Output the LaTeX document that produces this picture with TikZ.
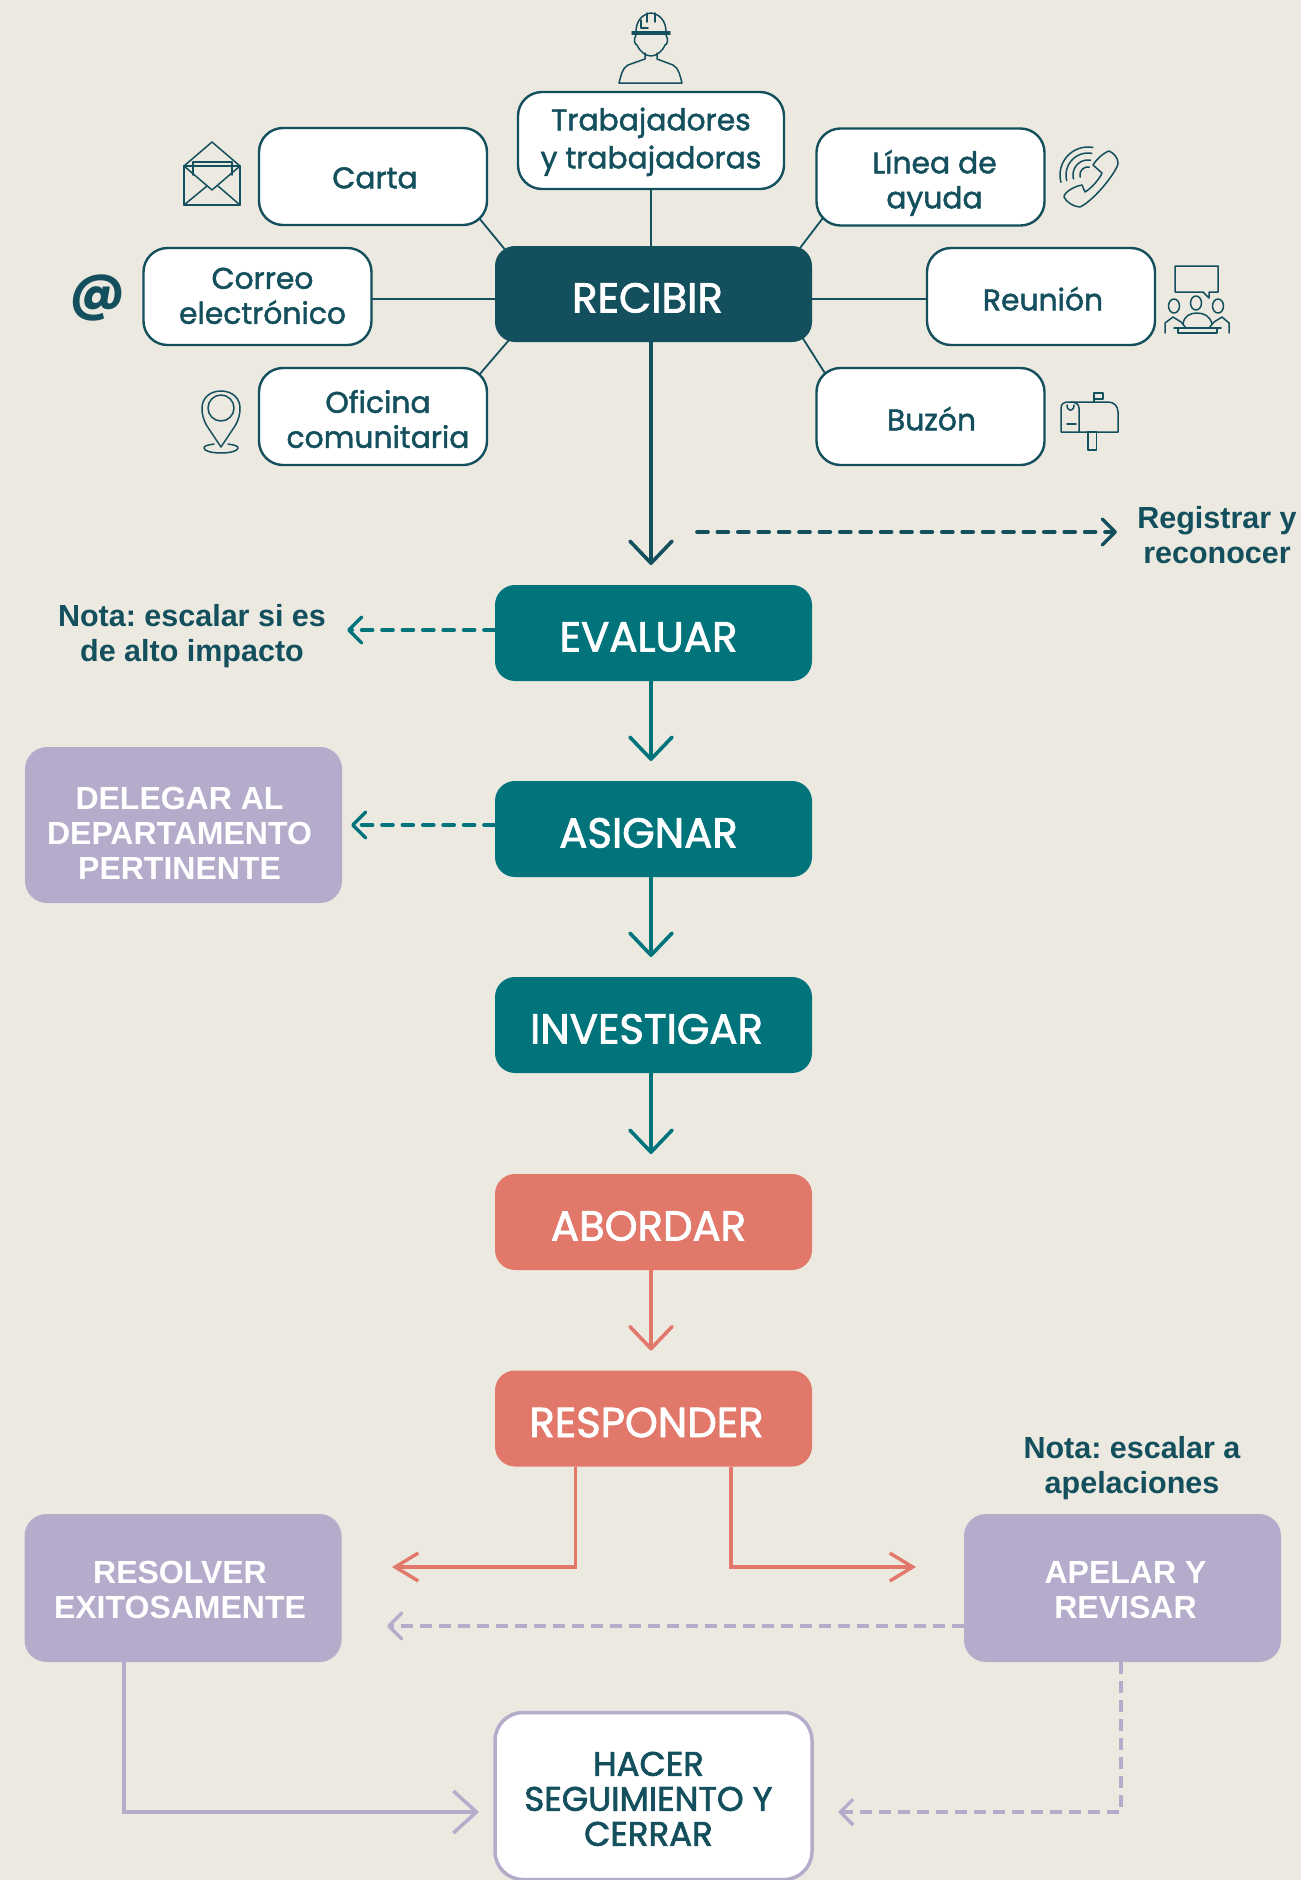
\documentclass[tikz,border=0pt]{standalone}
\usepackage{fontspec}
\usetikzlibrary{arrows.meta,backgrounds}
\newfontfamily\lblfont[FakeBold=1.6]{Poppins}
\newfontfamily\capfont[FakeBold=2]{Poppins}
\newfontfamily\atfont{Poppins}
\newfontfamily\notefont[Ligatures=TeX]{Liberation Sans}
\definecolor{bgc}{HTML}{ECE9E1}
\definecolor{dark}{HTML}{134F5C}
\definecolor{teal2}{HTML}{00747A}
\definecolor{coral}{HTML}{E2786A}
\definecolor{lilac}{HTML}{B5ABCB}
\frenchspacing
\newcommand\tsh[3]{\kern#1pt\raisebox{#2pt}[0pt][0pt]{\begin{tabular}{@{}c@{}}#3\end{tabular}}\kern-#1pt}
\tikzset{
  boxbase/.style={rectangle,outer sep=0pt,inner sep=0pt,align=center},
  chan/.style={boxbase,draw=dark,line width=2.4pt,fill=white,rounded corners=24pt,minimum width=228pt,minimum height=97pt,text=dark,font=\lblfont\frenchspacing\fontsize{29.8}{35}\selectfont},
  stage/.style={boxbase,rounded corners=20pt,minimum width=317pt,minimum height=96pt,text=white,font=\capfont\fontsize{41.8}{40}\selectfont},
  side/.style={boxbase,fill=lilac,rounded corners=22pt,minimum width=317pt,text=white,font=\notefont\bfseries\fontsize{32}{35}\selectfont},
  closebox/.style={boxbase,draw=lilac,line width=3.5pt,fill=white,rounded corners=28pt,minimum width=317pt,minimum height=167pt,text=dark,font=\capfont\fontsize{34}{35}\selectfont},
  note/.style={boxbase,text=dark,font=\notefont\bfseries\frenchspacing\fontsize{30.5}{35}\selectfont},
  spoke/.style={draw=dark,line width=1.8pt},
  bigtip/.style={-{Straight Barb[round,length=22pt,width=42pt,line width=3.6pt]},line width=3.6pt,shorten >=20pt},
  dashtip/.style={-{Straight Barb[round,length=13pt,width=26pt,line width=3.4pt]},line width=3.6pt,line cap=round,dash pattern=on 11pt off 9.4pt},
  icon/.style={draw=dark,line width=1.5pt,line join=round,line cap=round,fill=none},
}
\begin{document}
\begin{tikzpicture}[x=1pt,y=-1pt]
\useasboundingbox (0,0) rectangle (1301,1880);
% stages
\node[stage,fill=dark] (recibir) at (653.5,294) {\tsh{-6}{-16}{RECIBIR}};
\node[stage,fill=teal2] (evaluar) at (653.5,633) {\tsh{-5}{-16}{EVALUAR}};
\node[stage,fill=teal2] (asignar) at (653.5,829) {\tsh{-5}{-16}{ASIGNAR}};
\node[stage,fill=teal2] (investigar) at (653.5,1025) {\tsh{-7}{-16}{INVESTIGAR}};
\node[stage,fill=coral] (abordar) at (653.5,1222) {\tsh{-5}{-16}{ABORDAR}};
\node[stage,fill=coral] (responder) at (653.5,1418.5) {\tsh{-7}{-16}{RESPONDER}};
% channels
\node[chan,minimum width=266pt] (trab) at (651,140.5) {\tsh{0}{-8}{Trabajadores\\[3pt]y trabajadoras}};
\node[chan] (carta) at (373,176.5) {\tsh{2}{-11}{Carta}};
\node[chan] (correo) at (257.5,296.5) {\tsh{5}{-9}{Correo\\electrónico}};
\node[chan] (oficina) at (373,416.5) {\tsh{5}{-13}{Oficina\\comunitaria}};
\node[chan] (linea) at (930.5,177) {\tsh{4}{-13}{Línea de\\ayuda}};
\node[chan] (reunion) at (1041,296.5) {\tsh{2}{-13}{Reunión}};
\node[chan] (buzon) at (930.5,416.5) {\tsh{1}{-13}{Buzón}};
\node[boxbase,text=dark,font=\atfont\bfseries\fontsize{52}{52}\selectfont] (arroba) at (98,298) {@};
% side boxes
\node[side,minimum height=156pt] (delegar) at (183.5,825) {\tsh{-4}{-19}{DELEGAR AL\\DEPARTAMENTO\\PERTINENTE}};
\node[side,minimum height=148pt] (resolver) at (183,1588) {\tsh{-3}{-12}{RESOLVER\\EXITOSAMENTE}};
\node[side,minimum height=148pt] (apelar) at (1122.5,1588) {\tsh{3}{-12}{APELAR Y\\REVISAR}};
\node[closebox] (hacer) at (653.5,1796) {\tsh{-5}{-14}{HACER\\SEGUIMIENTO Y\\CERRAR}};
% notes
\node[note] (registrar) at (1217,535) {Registrar y\\reconocer};
\node[note] (nota1) at (192,636) {Nota: escalar si es\\de alto impacto};
\node[note] (nota2) at (1132,1468) {Nota: escalar a\\apelaciones};
% free ends
\coordinate (regA) at (697,532);
\coordinate (regB) at (1117,532);
\coordinate (notaEnd) at (347,630);
\coordinate (respL) at (392,1567);
\coordinate (respR) at (916,1567);
\coordinate (apelEnd) at (387,1626);
\begin{pgfonlayer}{background}
\fill[bgc] (0,0) rectangle (1301,1880);
% spokes
\draw[spoke] (trab.south -| 651,0) -- (recibir.north -| 651,0);
\draw[spoke] ([xshift=-8pt,yshift=7pt]carta.south east) -- ([xshift=12pt,yshift=-6pt]recibir.north west);
\draw[spoke] (correo.east |- 0,299) -- (recibir.west |- 0,299);
\draw[spoke] ([xshift=-8pt,yshift=-7pt]oficina.north east) -- ([xshift=14pt,yshift=2pt]recibir.south west);
\draw[spoke] ([xshift=6pt,yshift=7pt]linea.south west) -- ([xshift=-12pt,yshift=-2pt]recibir.north east);
\draw[spoke] (recibir.east |- 0,299) -- (reunion.west |- 0,299);
\draw[spoke] ([xshift=-10pt,yshift=5pt]recibir.south east) -- ([xshift=9pt,yshift=-6pt]buzon.north west);
\end{pgfonlayer}
% flow
\draw[bigtip,draw=dark] ([xshift=-2.5pt]recibir.south) -- ([xshift=-2.5pt]evaluar.north);
\draw[bigtip,draw=teal2] ([xshift=-2.5pt]evaluar.south) -- ([xshift=-2.5pt]asignar.north);
\draw[bigtip,draw=teal2] ([xshift=-2.5pt]asignar.south) -- ([xshift=-2.5pt]investigar.north);
\draw[bigtip,draw=teal2] ([xshift=-2.5pt]investigar.south) -- ([xshift=-2.5pt]abordar.north);
\draw[bigtip,draw=coral] ([xshift=-2.5pt]abordar.south) -- ([xshift=-2.5pt]responder.north);
\draw[dashtip,draw=dark] (regA) -- (regB);
\draw[dashtip,draw=teal2] ([yshift=3pt]evaluar.west) -- (notaEnd);
\draw[dashtip,draw=teal2] ([yshift=4pt]asignar.west) -- ([xshift=9pt,yshift=0pt]delegar.east);
\draw[bigtip,shorten >=0pt,draw=coral,-{Straight Barb[length=23pt,width=28pt,line width=3.4pt]}] ([xshift=-78pt]responder.south) |- (respL);
\draw[bigtip,shorten >=0pt,draw=coral,-{Straight Barb[length=23pt,width=28pt,line width=3.4pt]}] ([xshift=77.5pt]responder.south) |- (respR);
\draw[dashtip,line width=4pt,line cap=butt,dash pattern=on 12pt off 7pt,draw=lilac] ([yshift=-38pt]apelar.west) -- (apelEnd);
\draw[draw=lilac,line width=3.5pt,shorten >=16pt,-{Straight Barb[length=23pt,width=42pt,line width=3.5pt]}] ([xshift=-59pt]resolver.south) |- ([yshift=-16pt]hacer.west);
\draw[draw=lilac,line width=3.5pt,dash pattern=on 12pt off 7pt,shorten >=26pt,-{Straight Barb[length=13pt,width=26pt,line width=3.2pt]}] ([xshift=-1.5pt]apelar.south) |- ([yshift=-16pt]hacer.east);
% worker
\draw[icon] (636,32) .. controls (636,20) and (643,14) .. (651,13) .. controls (659,14) and (666,20) .. (666,32);
\draw[icon] (632,32) -- (670,32) (632,34) -- (670,34);
\draw[icon] (647,13) -- (647,22) (655,13) -- (655,22) (641,20) -- (641,28) -- (648,28);
\draw[icon] (636,35) .. controls (633,40) and (635,45) .. (637,45) .. controls (640,52) and (646,56) .. (651,56) .. controls (656,56) and (662,52) .. (665,45) .. controls (667,45) and (669,40) .. (666,35);
\draw[icon] (645,53) -- (645,59) -- (628,65) .. controls (622,68) and (621,76) .. (619,83) -- (682,83) .. controls (680,76) and (679,68) .. (673,65) -- (657,59) -- (657,53);
% envelope
\draw[icon] (184,166) rectangle (240,205);
\draw[icon] (184,166) -- (212,142) -- (240,166);
\draw[icon] (193,175) -- (193,162) -- (232,162) -- (232,175);
\draw[icon] (184,166) -- (212,190) -- (240,166);
\draw[icon] (184,205) -- (207,186) (240,205) -- (218,186);
% pin
\draw[icon] (221,447) -- (207,426) .. controls (203,419) and (202,414) .. (202,408) .. controls (202,398) and (210,391) .. (221,391) .. controls (232,391) and (240,398) .. (240,408) .. controls (240,414) and (239,419) .. (235,426) -- cycle;
\draw[icon] (221,408) circle [radius=13pt];
\draw[icon] (214,444) .. controls (207,445) and (204,446) .. (204,448) .. controls (204,451) and (212,453) .. (221,453) .. controls (230,453) and (238,451) .. (238,448) .. controls (238,446) and (235,445) .. (228,444);
% phone
\draw[icon] (1109,151) .. controls (1114,153) and (1118,158) .. (1118,163) .. controls (1118,170) and (1095,200) .. (1080,207) .. controls (1074,207) and (1066,202) .. (1064,197) .. controls (1064,192) and (1075,186) .. (1082,185) -- (1085,192) .. controls (1092,188) and (1100,178) .. (1102,173) -- (1093,165) .. controls (1096,160) and (1103,153) .. (1109,151) -- cycle;
\foreach \r in {8,15,22,28}
  \draw[icon] plot[domain=80:195,samples=16,smooth] ({1088+\r*cos(\x)},{175-\r*sin(\x)});
% reunion
\draw[icon] (1175,266) -- (1218,266) -- (1218,292) -- (1209,292) -- (1209,298) -- (1203,292) -- (1175,292) -- cycle;
\draw[icon] (1174,306) ellipse [x radius=5.5pt,y radius=7pt];
\draw[icon] (1196,303) ellipse [x radius=5.5pt,y radius=7pt];
\draw[icon] (1218,306) ellipse [x radius=5.5pt,y radius=7pt];
\draw[icon] (1183,324) .. controls (1184,316) and (1190,313) .. (1197,313) .. controls (1204,313) and (1210,316) .. (1212,324);
\draw[icon] (1165,333) -- (1165,323) -- (1173,317) -- (1181,322) -- (1186,328);
\draw[icon] (1229,333) -- (1229,323) -- (1222,317) -- (1214,322) -- (1209,328);
\draw[icon] (1174,328) -- (1221,328) (1178,328) -- (1178,333) (1217,328) -- (1217,333) (1178,333) -- (1217,333);
% mailbox
\draw[icon] (1061,432) -- (1061,408) .. controls (1061,404) and (1064,402) .. (1068,402) -- (1108,402) .. controls (1114,402) and (1118,406) .. (1118,412) -- (1118,432) -- cycle;
\draw[icon] (1079,432) -- (1079,408) .. controls (1079,404) and (1075,402) .. (1071,402);
\draw[icon] (1067,405) .. controls (1067,412) and (1074,412) .. (1074,405);
\draw[icon] (1067,424) -- (1076,424);
\draw[icon] (1094,402) -- (1094,393) -- (1103,393) -- (1103,399) -- (1094,399);
\draw[icon] (1088,432) rectangle (1096.5,450);
\end{tikzpicture}
\end{document}
